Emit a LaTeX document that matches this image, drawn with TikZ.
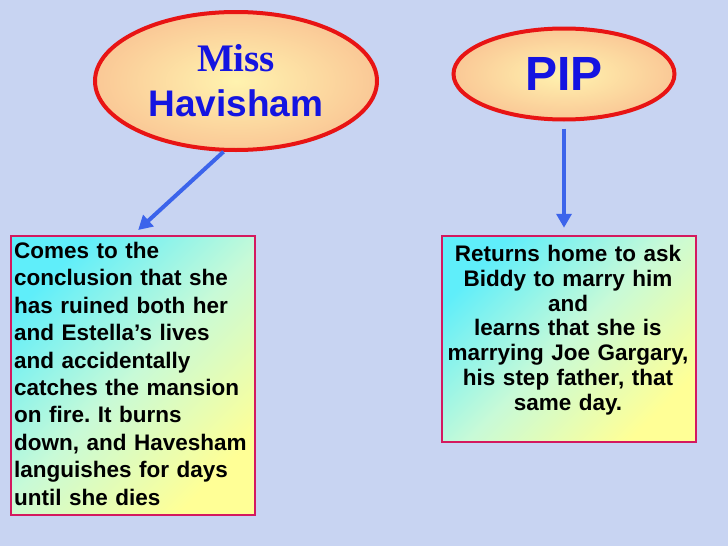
\documentclass[tikz,border=0pt]{standalone}
\usepackage{fontspec}
\setmainfont{Liberation Sans}
\newfontfamily\timesb{Liberation Serif}
\usetikzlibrary{shapes.geometric,arrows.meta}
\definecolor{bgblue}{RGB}{200,212,242}
\definecolor{ellred}{RGB}{232,20,20}
\definecolor{boxred}{RGB}{212,25,95}
\definecolor{arrblue}{RGB}{60,100,235}
\definecolor{titleblue}{RGB}{20,20,225}
\definecolor{cyanfill}{RGB}{95,238,250}
\definecolor{midfill}{RGB}{200,250,215}
\definecolor{yelfill}{RGB}{255,255,150}
\definecolor{ellin}{RGB}{255,243,175}
\definecolor{ellout}{RGB}{250,200,150}
\tikzset{
  oval/.style={ellipse, draw=ellred, line width=4pt, inner color=ellin, outer color=ellout, inner sep=0pt},
  infobox/.style={rectangle, draw=boxred, line width=2.5pt, top color=cyanfill, bottom color=yelfill, middle color=midfill, shading angle=45, inner sep=0pt},
  arr/.style={draw=arrblue, line width=4pt, -{Triangle[length=14pt,width=15pt]}},
  bodytext/.style={inner sep=0pt, text=black}
}
\begin{document}
\frenchspacing
\begin{tikzpicture}[x=1pt,y=-1pt]
\fill[bgblue] (0,0) rectangle (728,546);
\useasboundingbox (0,0) rectangle (728,546);
\node[oval, minimum width=282pt, minimum height=138pt, align=center, text=titleblue, font=\bfseries\fontsize{37}{45}\selectfont] (mh) at (236,81)
  {{\timesb\fontsize{39}{45}\selectfont Miss}\\Havisham};
\node[oval, minimum width=221pt, minimum height=91pt, text=titleblue, font=\bfseries\fontsize{48}{50}\selectfont] (pip) at (564,74) {PIP};
\node[infobox, minimum width=244pt, minimum height=279pt] (lbox) at (133,375.5) {};
\node[bodytext, text width=238pt, align=left, anchor=north west, font=\bfseries\fontsize{22.5}{27.4}\selectfont] (ltext) at (14,242)
  {Comes to the\\conclusion that she\\has ruined both her\\and Estella’s lives\\and accidentally\\catches the mansion\\on fire. It burns\\down, and Havesham\\languishes for days\\until she dies};
\node[infobox, minimum width=254pt, minimum height=206pt] (rbox) at (569,339) {};
\node[bodytext, text width=252pt, align=center, anchor=north, font=\bfseries\fontsize{22.5}{24.8}\selectfont] (rtext) at (568,245)
  {Returns home to ask\\Biddy to marry him\\and\\learns that she is\\marrying Joe Gargary,\\his step father, that\\same day.};
\draw[arr, shorten >=7pt] (mh.-100) -- (lbox.north);
\draw[arr, shorten <=7pt, shorten >=7pt] (pip.south) -- (pip.south |- rbox.north);
\end{tikzpicture}
\end{document}
